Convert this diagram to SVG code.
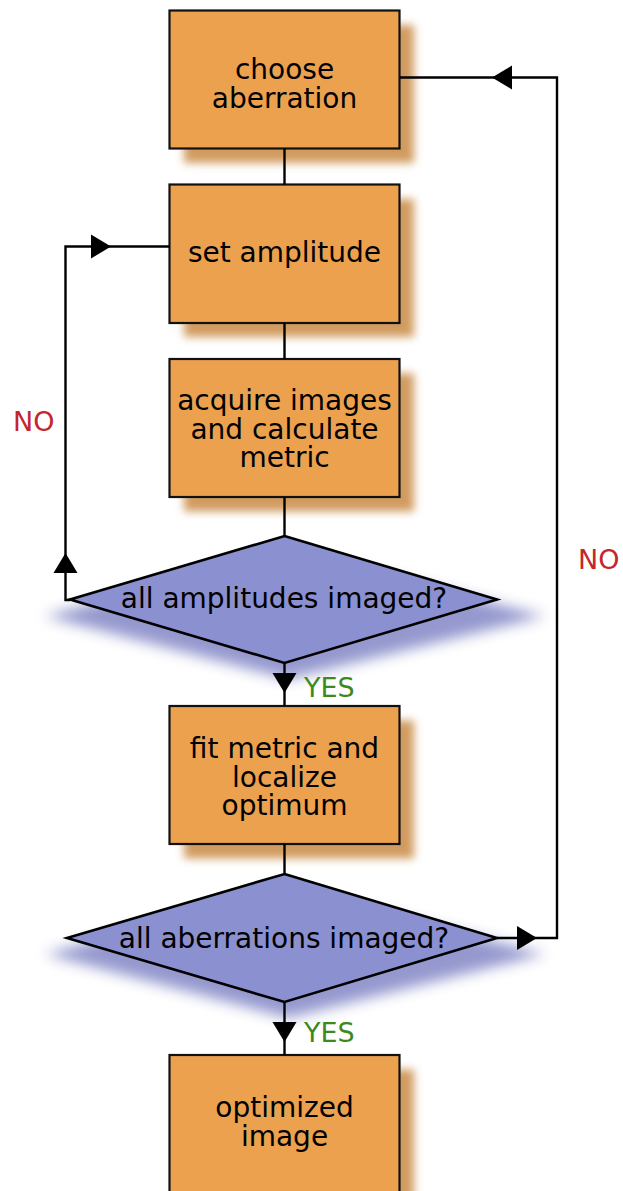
<svg xmlns="http://www.w3.org/2000/svg" width="623" height="1191" viewBox="0 0 623 1191">
  <style>
    .box { fill: #eca14f; stroke: #111; stroke-width: 2.2; }
    .box-shadow { fill: #c98a45; opacity: 0.85; filter: url(#soft); }
    .dia { fill: #8b90d0; stroke: #000; stroke-width: 2.6; stroke-linejoin: miter; }
    .dia-shadow { fill: #5c62b4; opacity: 0.65; filter: url(#softer); }
    .lbl { font-family: "DejaVu Sans", "Noto Sans", sans-serif; font-size: 28px; fill: #000; text-anchor: middle; }
    .no { font-family: "DejaVu Sans", "Noto Sans", sans-serif; font-size: 27px; fill: #c3262b; }
    .yes { font-family: "DejaVu Sans", "Noto Sans", sans-serif; font-size: 27px; fill: #3d8a1c; }
    .wire { fill: none; stroke: #000; stroke-width: 2.4; }
  </style>
  <defs>
    <filter id="soft" x="-20%" y="-20%" width="140%" height="140%">
      <feGaussianBlur stdDeviation="4.5"/>
    </filter>
    <filter id="softer" x="-20%" y="-30%" width="140%" height="160%">
      <feGaussianBlur stdDeviation="7"/>
    </filter>
    <!-- arrowhead pointing along +x, tip at the origin -->
    <path id="ah" d="M0,0 L-20,-12 L-20,12 Z" fill="#000"/>
  </defs>

  <rect width="623" height="1191" fill="#fff"/>

  <g id="choose-aberration">
    <rect class="box-shadow" x="184" y="25" width="230" height="138"/>
    <rect class="box" x="169.5" y="10.5" width="230" height="138"/>
    <text class="lbl" x="284.5" y="79">choose</text>
    <text class="lbl" x="284.5" y="108">aberration</text>
  </g>

  <g id="set-amplitude">
    <rect class="box-shadow" x="184" y="199" width="230" height="138"/>
    <rect class="box" x="169.5" y="184.5" width="230" height="138.5"/>
    <text class="lbl" x="284.5" y="262">set amplitude</text>
  </g>

  <g id="acquire-images">
    <rect class="box-shadow" x="184" y="373.5" width="230" height="138"/>
    <rect class="box" x="169.5" y="359" width="230" height="138"/>
    <text class="lbl" x="284.5" y="410">acquire images</text>
    <text class="lbl" x="284.5" y="438.5">and calculate</text>
    <text class="lbl" x="284.5" y="467">metric</text>
  </g>

  <g id="all-amplitudes">
    <polygon class="dia-shadow" points="288,552 545,616 288,679 45,616"/>
    <polygon class="dia" points="284.5,536 497,599.5 284.5,663 70,599.5"/>
    <text class="lbl" x="284" y="607.5">all amplitudes imaged?</text>
  </g>

  <g id="fit-metric">
    <rect class="box-shadow" x="184" y="720.5" width="230" height="138"/>
    <rect class="box" x="169.5" y="706" width="230" height="138"/>
    <text class="lbl" x="284.5" y="757.5">fit metric and</text>
    <text class="lbl" x="284.5" y="786.5">localize</text>
    <text class="lbl" x="284.5" y="815">optimum</text>
  </g>

  <g id="all-aberrations">
    <polygon class="dia-shadow" points="288,890 545,954 288,1018 45,954"/>
    <polygon class="dia" points="284.5,874 497,938 284.5,1002 67,938"/>
    <text class="lbl" x="284" y="948">all aberrations imaged?</text>
  </g>

  <g id="optimized-image">
    <rect class="box-shadow" x="184" y="1069.5" width="230" height="138"/>
    <rect class="box" x="169.5" y="1055" width="230" height="138"/>
    <text class="lbl" x="284.5" y="1117">optimized</text>
    <text class="lbl" x="284.5" y="1146">image</text>
  </g>

  <!-- connectors drawn last so shadows never cover them -->
  <g id="connectors">
    <path class="wire" d="M284.5,148.5 V184.5"/>
    <path class="wire" d="M284.5,323 V359"/>
    <path class="wire" d="M284.5,497 V536"/>
    <path class="wire" d="M284.5,663 V706"/>
    <path class="wire" d="M284.5,844 V874"/>
    <path class="wire" d="M284.5,1002 V1055"/>
    <path class="wire" d="M70,600 H65.5 V246.5 H170"/>
    <path class="wire" d="M497,938 H557 V77.5 H400"/>
    <use href="#ah" transform="translate(65.5,553) rotate(-90)"/>
    <use href="#ah" transform="translate(111,246.5)"/>
    <use href="#ah" transform="translate(284.5,693) rotate(90)"/>
    <use href="#ah" transform="translate(537,938)"/>
    <use href="#ah" transform="translate(492,77.5) rotate(180)"/>
    <use href="#ah" transform="translate(284.5,1042) rotate(90)"/>
    <text class="yes" x="304" y="697">YES</text>
    <text class="yes" x="304" y="1042">YES</text>
    <text class="no" x="13" y="431">NO</text>
    <text class="no" x="578" y="569">NO</text>
  </g>
</svg>
